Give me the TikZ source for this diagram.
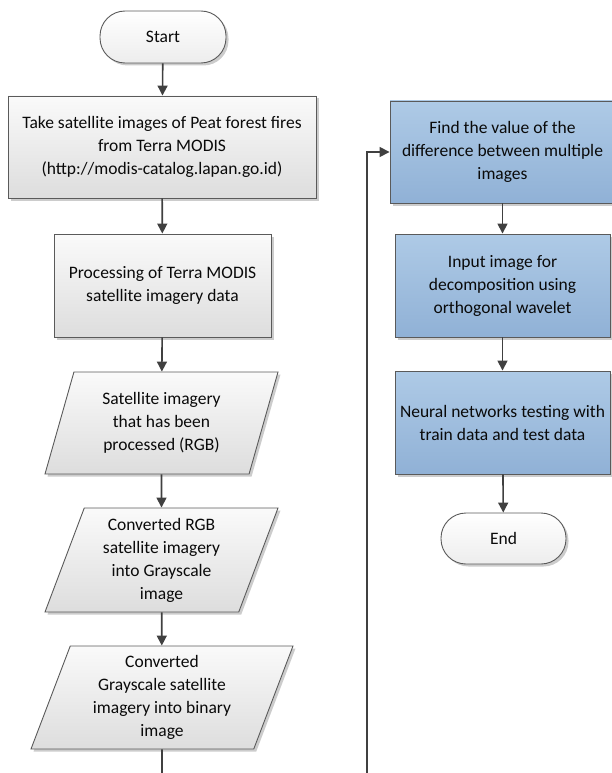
\documentclass[tikz,border=0pt]{standalone}
\usepackage{fontspec}
\setmainfont{Carlito}
\usetikzlibrary{shapes.geometric,shadows,arrows.meta}
\definecolor{ln}{HTML}{404040}
\definecolor{bd}{HTML}{5A5A5A}
\definecolor{gtop}{HTML}{FAFAFA}
\definecolor{gbot}{HTML}{DDDDDD}
\definecolor{ttop}{HTML}{FFFFFF}
\definecolor{tbot}{HTML}{EDEDED}
\definecolor{btop}{HTML}{AECAE6}
\definecolor{bbot}{HTML}{90B1D6}
\definecolor{txt}{HTML}{0A0A0A}
\begin{document}
\begin{tikzpicture}[x=1pt,y=-1pt,
  base/.style={draw=bd, line width=0.9pt, align=center, text=txt,
    font=\fontsize{17.5}{23}\selectfont, inner sep=2pt,
    drop shadow={shadow xshift=2.5pt, shadow yshift=-2.5pt, fill=black, opacity=0.2}},
  graybox/.style={base, rectangle, top color=gtop, bottom color=gbot},
  bluebox/.style={base, rectangle, top color=btop, bottom color=bbot},
  term/.style={base, rectangle, rounded corners=25pt, top color=ttop, bottom color=tbot},
  io/.style={base, trapezium, trapezium left angle=66, trapezium right angle=114,
    trapezium stretches body, top color=gtop, bottom color=gbot},
  flow/.style={draw=ln, line width=1.6pt, -{Triangle[length=10pt,width=10pt]}},
  plain/.style={draw=ln, line width=1.6pt}
]
\useasboundingbox (0,0) rectangle (611,773);

\node[term, minimum width=126pt, minimum height=52pt] (start) at (163,37) {Start};
\node[graybox, minimum width=308pt, minimum height=102pt] (b1) at (162,147)
  {Take satellite images of Peat forest fires\\from Terra MODIS\\(http://modis-catalog.lapan.go.id)};
\node[graybox, minimum width=217pt, minimum height=103pt] (b2) at (162.5,285.5)
  {Processing of Terra MODIS\\satellite imagery data};
\node[io, minimum width=233pt, minimum height=102pt] (p1) at (161.5,423)
  {Satellite imagery\\that has been\\processed (RGB)};
\node[io, minimum width=233pt, minimum height=104pt] (p2) at (161.5,560)
  {Converted RGB\\satellite imagery\\into Grayscale\\image};
\node[io, minimum width=262pt, minimum height=103pt] (p3) at (162,697.5)
  {Converted\\Grayscale satellite\\imagery into binary\\image};

\node[bluebox, minimum width=225pt, minimum height=102pt] (a) at (502.5,152)
  {Find the value of the\\difference between multiple\\images};
\node[bluebox, minimum width=215pt, minimum height=103pt] (b) at (502.5,285.5)
  {Input image for\\decomposition using\\orthogonal wavelet};
\node[bluebox, minimum width=215pt, minimum height=103pt] (c) at (502.5,422.5)
  {Neural networks testing with\\train data and test data};
\node[term, minimum width=125pt, minimum height=51pt] (end) at (503.5,538.5) {End};

\coordinate (lo) at (162,790);
\coordinate (ro) at (367,790);

\draw[flow] (start) -- (b1);
\draw[flow] (b1) -- (b2);
\draw[flow] (b2) -- (p1);
\draw[flow] (p1) -- (p2);
\draw[flow] (p2) -- (p3);
\draw[plain] (p3) -- (lo);
\draw[flow] (ro) |- (a.west);
\draw[flow] (a) -- (b);
\draw[flow] (b) -- (c);
\draw[flow] (c) -- (end);
\end{tikzpicture}
\end{document}
